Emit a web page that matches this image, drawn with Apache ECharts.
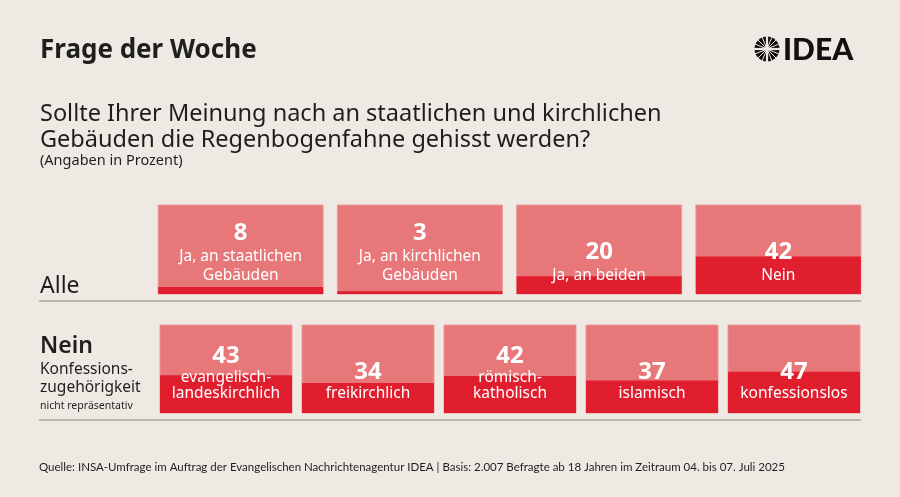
<!DOCTYPE html>
<html>
<head>
<meta charset="utf-8">
<script src="https://cdn.jsdelivr.net/npm/echarts@6/dist/echarts.min.js"></script>
<style>
  html, body { margin: 0; padding: 0; background: #eeeae3; }
  #main { width: 900px; height: 497px; }
</style>
</head>
<body>
<div id="main"></div>
<script>
// Data
var allCategories = ['Ja, an staatlichen\nGebäuden', 'Ja, an kirchlichen\nGebäuden', 'Ja, an beiden', 'Nein'];
var allValues = [8, 3, 20, 42];
var neinCategories = ['evangelisch-\nlandeskirchlich', 'freikirchlich', 'römisch-\nkatholisch', 'islamisch', 'konfessionslos'];
var neinValues = [43, 34, 42, 37, 47];

var LIGHT = '#e8777a';
var DARK = '#e01e2e';
var INK = '#1e1e1e';
var FONT = '"Noto Sans", Lato, sans-serif';

var chartDom = document.getElementById('main');
var myChart = echarts.init(chartDom);
var option;

function boxLabel(params) {
    var lines = params.name.split('\n').map(function (s) { return '{t|' + s + '}'; });
    return '{n|' + params.value + '}\n' + lines.join('\n');
}

function barSeries(idx, values, barWidth, lineH, dist) {
    return {
        type: 'bar',
        xAxisIndex: idx,
        yAxisIndex: idx,
        data: values,
        barWidth: barWidth,
        showBackground: true,
        backgroundStyle: { color: LIGHT, borderColor: '#ee9a9c', borderWidth: 1 },
        itemStyle: { color: DARK },
        silent: true,
        label: {
            show: true,
            position: 'insideBottom',
            distance: dist,
            formatter: boxLabel,
            rich: {
                n: { fontFamily: FONT, fontSize: 24, fontWeight: 'bold', color: '#fff', lineHeight: 28, align: 'center' },
                t: { fontFamily: FONT, fontSize: 15.5, color: '#fff', lineHeight: lineH, align: 'center' }
            }
        }
    };
}

// logo spokes
var logoParts = [{ type: 'circle', shape: { cx: 0, cy: 0, r: 12.5 }, style: { fill: '#111' } }];
for (var a = 0; a < 180; a += 22.5) {
    var r = a * Math.PI / 180;
    logoParts.push({
        type: 'line',
        shape: { x1: -13 * Math.cos(r), y1: -13 * Math.sin(r), x2: 13 * Math.cos(r), y2: 13 * Math.sin(r) },
        style: { stroke: '#eeeae3', lineWidth: (a % 90 === 0) ? 2.2 : 1 }
    });
}
logoParts.push({ type: 'circle', shape: { cx: 0, cy: 0, r: 2.5 }, style: { fill: '#eeeae3' } });

function txt(x, y, text, size, weight, color, family) {
    return {
        type: 'text', left: x, top: y,
        style: { text: text, fontFamily: family || FONT, fontSize: size, fontWeight: weight || 'normal', fill: color || INK }
    };
}

option = {
    backgroundColor: '#eeeae3',
    animation: false,
    grid: [
        { left: 151, right: 32, top: 205, height: 89 },
        { left: 155, right: 35, top: 325, height: 88 }
    ],
    xAxis: [
        { gridIndex: 0, type: 'category', data: allCategories, show: false },
        { gridIndex: 1, type: 'category', data: neinCategories, show: false }
    ],
    yAxis: [
        { gridIndex: 0, type: 'value', min: 0, max: 100, show: false },
        { gridIndex: 1, type: 'value', min: 0, max: 100, show: false }
    ],
    series: [
        barSeries(0, allValues, 165, 19, 9),
        barSeries(1, neinValues, 132, 16, 11)
    ],
    graphic: [
        txt(40, 38, 'Frage der Woche', 26, 'bold'),
        { type: 'group', x: 767, y: 49, children: logoParts },
        txt(783, 35, 'IDEA', 30, 900, '#111', 'Lato, sans-serif'),
        txt(40, 102, 'Sollte Ihrer Meinung nach an staatlichen und kirchlichen', 23.5),
        txt(40, 128, 'Gebäuden die Regenbogenfahne gehisst werden?', 23.5),
        txt(40, 153, '(Angaben in Prozent)', 14.5),
        txt(40, 275, 'Alle', 23),
        txt(40, 335, 'Nein', 23, 600),
        txt(40, 362, 'Konfessions-', 15.5),
        txt(40, 380, 'zugehörigkeit', 15.5),
        txt(40, 401, 'nicht repräsentativ', 10.5),
        { type: 'line', shape: { x1: 39, y1: 301, x2: 861, y2: 301 }, style: { stroke: '#aaa69f', lineWidth: 1.5 } },
        { type: 'line', shape: { x1: 39, y1: 420, x2: 861, y2: 420 }, style: { stroke: '#aaa69f', lineWidth: 1.5 } },
        txt(39, 461, 'Quelle: INSA-Umfrage im Auftrag der Evangelischen Nachrichtenagentur IDEA | Basis: 2.007 Befragte ab 18 Jahren im Zeitraum 04. bis 07. Juli 2025', 11.5, 'normal', INK, 'Lato, sans-serif')
    ]
};

option && myChart.setOption(option);

window.addEventListener('resize', function () {
    myChart.resize();
});
</script>
</body>
</html>
